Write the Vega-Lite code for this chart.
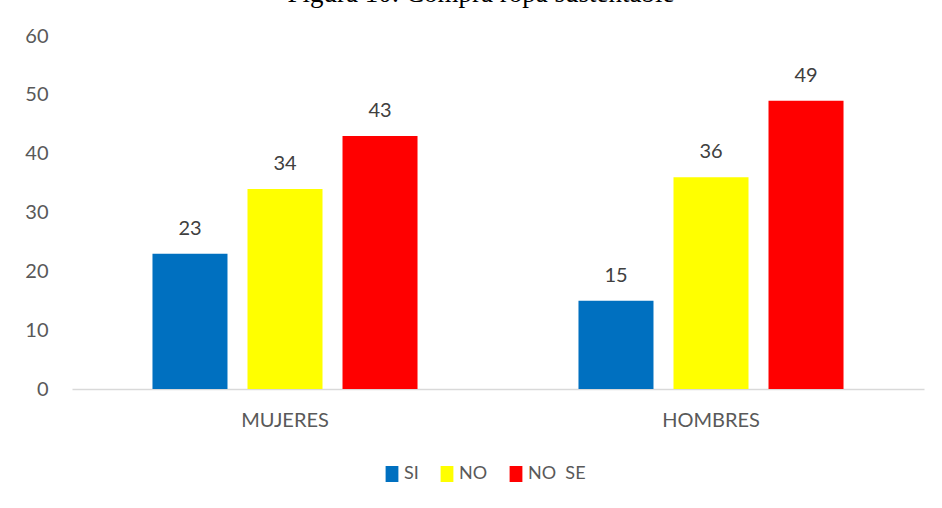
{
  "$schema": "https://vega.github.io/schema/vega-lite/v6.json",
  "autosize": {"type": "none"},
  "width": 852,
  "height": 353,
  "padding": {"left": 72, "top": 36, "right": 18, "bottom": 119},
  "background": "white",
  "title": {
    "text": "Figura 10: Compra ropa sustentable",
    "font": "Liberation Serif",
    "fontSize": 27,
    "fontWeight": "normal",
    "color": "#000000",
    "anchor": "middle",
    "baseline": "alphabetic",
    "offset": -3,
    "dx": -17,
    "frame": "group"
  },
  "data": {
    "values": [
      {"grupo": "MUJERES", "respuesta": "SI", "valor": 23},
      {"grupo": "MUJERES", "respuesta": "NO", "valor": 34},
      {"grupo": "MUJERES", "respuesta": "NO\u00a0 SE", "valor": 43},
      {"grupo": "HOMBRES", "respuesta": "SI", "valor": 15},
      {"grupo": "HOMBRES", "respuesta": "NO", "valor": 36},
      {"grupo": "HOMBRES", "respuesta": "NO\u00a0 SE", "valor": 49}
    ]
  },
  "encoding": {
    "x": {
      "field": "grupo", "type": "nominal", "sort": ["MUJERES", "HOMBRES"],
      "scale": {"paddingInner": 0, "paddingOuter": 0},
      "axis": {
        "title": null, "labelAngle": 0, "ticks": false, "labelPadding": 21,
        "domainColor": "#d9d9d9", "domainWidth": 1.5,
        "labelFont": "Lato", "labelFontSize": 20, "labelColor": "#595959"
      }
    },
    "xOffset": {
      "field": "respuesta", "type": "nominal", "sort": ["SI", "NO", "NO\u00a0 SE"],
      "scale": {"paddingInner": 0.2105, "paddingOuter": 0.847}
    },
    "y": {
      "field": "valor", "type": "quantitative",
      "scale": {"domain": [0, 60], "nice": false},
      "axis": {
        "title": null, "values": [0, 10, 20, 30, 40, 50, 60], "grid": false,
        "domain": false, "ticks": false, "labelPadding": 24,
        "labelFont": "Lato", "labelFontSize": 20, "labelColor": "#595959"
      }
    }
  },
  "layer": [
    {
      "mark": {"type": "bar"},
      "encoding": {
        "color": {
          "field": "respuesta", "type": "nominal", "sort": ["SI", "NO", "NO\u00a0 SE"],
          "scale": {"domain": ["SI", "NO", "NO\u00a0 SE"], "range": ["#0070c0", "#ffff00", "#ff0000"]},
          "legend": {
            "title": null, "orient": "none", "direction": "horizontal",
            "legendX": 311, "legendY": 429,
            "symbolType": "M-0.8,-1H0.8V1H-0.8Z", "symbolSize": 256, "symbolStrokeWidth": 0,
            "labelFont": "Lato", "labelFontSize": 18, "labelColor": "#595959",
            "columnPadding": 19, "symbolOffset": 0, "labelOffset": 3
          }
        }
      }
    },
    {
      "mark": {"type": "text", "dy": -25, "font": "Lato", "fontSize": 20, "color": "#404040"},
      "encoding": {"text": {"field": "valor", "type": "quantitative"}}
    }
  ],
  "config": {"view": {"stroke": null}}
}
